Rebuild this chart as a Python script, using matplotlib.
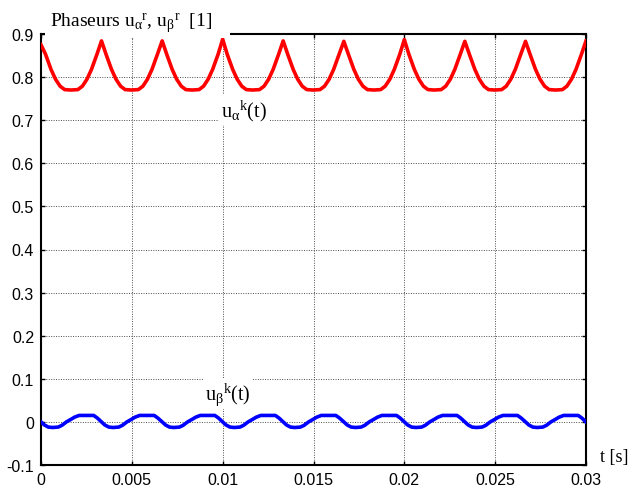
import numpy as np
import matplotlib
matplotlib.use("Agg")
import matplotlib.pyplot as plt
from matplotlib.patches import Rectangle

# u_alpha^k(t): breakpoints (ms) and values, one row per 300 Hz period
t_alpha_ms = [
    0.00, 0.25, 0.55, 0.80, 1.05, 1.30, 1.65, 2.03, 2.28, 2.53, 2.78, 3.08,
    3.33, 3.58, 3.88, 4.13, 4.38, 4.63, 4.98, 5.36, 5.61, 5.86, 6.11, 6.41,
    6.67, 6.92, 7.22, 7.47, 7.72, 7.97, 8.32, 8.70, 8.95, 9.20, 9.45, 9.75,
    10.00, 10.25, 10.55, 10.80, 11.05, 11.30, 11.65, 12.03, 12.28, 12.53, 12.78, 13.08,
    13.33, 13.58, 13.88, 14.13, 14.38, 14.63, 14.98, 15.36, 15.61, 15.86, 16.11, 16.41,
    16.67, 16.92, 17.22, 17.47, 17.72, 17.97, 18.32, 18.70, 18.95, 19.20, 19.45, 19.75,
    20.00, 20.25, 20.55, 20.80, 21.05, 21.30, 21.65, 22.03, 22.28, 22.53, 22.78, 23.08,
    23.33, 23.58, 23.88, 24.13, 24.38, 24.63, 24.98, 25.36, 25.61, 25.86, 26.11, 26.41,
    26.67, 26.92, 27.22, 27.47, 27.72, 27.97, 28.32, 28.70, 28.95, 29.20, 29.45, 29.75,
    30.00,
]
u_alpha = [
    0.875, 0.853, 0.818, 0.795, 0.779, 0.771, 0.770, 0.771, 0.779, 0.795, 0.818, 0.853,
    0.884, 0.853, 0.818, 0.795, 0.779, 0.771, 0.770, 0.771, 0.779, 0.795, 0.818, 0.853,
    0.884, 0.853, 0.818, 0.795, 0.779, 0.771, 0.770, 0.771, 0.779, 0.795, 0.818, 0.853,
    0.888, 0.853, 0.818, 0.795, 0.779, 0.771, 0.770, 0.771, 0.779, 0.795, 0.818, 0.853,
    0.884, 0.853, 0.818, 0.795, 0.779, 0.771, 0.770, 0.771, 0.779, 0.795, 0.818, 0.853,
    0.883, 0.853, 0.818, 0.795, 0.779, 0.771, 0.770, 0.771, 0.779, 0.795, 0.818, 0.853,
    0.887, 0.853, 0.818, 0.795, 0.779, 0.771, 0.770, 0.771, 0.779, 0.795, 0.818, 0.853,
    0.883, 0.853, 0.818, 0.795, 0.779, 0.771, 0.770, 0.771, 0.779, 0.795, 0.818, 0.853,
    0.883, 0.853, 0.818, 0.795, 0.779, 0.771, 0.770, 0.771, 0.779, 0.795, 0.818, 0.853,
    0.884,
]

# u_beta^k(t)
t_beta_ms = [
    0.00, 0.18, 0.40, 0.64, 0.95, 1.15, 1.40, 1.65, 1.85, 2.10, 2.90, 3.10,
    3.33, 3.51, 3.73, 3.97, 4.28, 4.48, 4.73, 4.98, 5.18, 5.43, 6.23, 6.43,
    6.67, 6.85, 7.07, 7.31, 7.62, 7.82, 8.07, 8.32, 8.52, 8.77, 9.57, 9.77,
    10.00, 10.18, 10.40, 10.64, 10.95, 11.15, 11.40, 11.65, 11.85, 12.10, 12.90, 13.10,
    13.33, 13.51, 13.73, 13.97, 14.28, 14.48, 14.73, 14.98, 15.18, 15.43, 16.23, 16.43,
    16.67, 16.85, 17.07, 17.31, 17.62, 17.82, 18.07, 18.32, 18.52, 18.77, 19.57, 19.77,
    20.00, 20.18, 20.40, 20.64, 20.95, 21.15, 21.40, 21.65, 21.85, 22.10, 22.90, 23.10,
    23.33, 23.51, 23.73, 23.97, 24.28, 24.48, 24.73, 24.98, 25.18, 25.43, 26.23, 26.43,
    26.67, 26.85, 27.07, 27.31, 27.62, 27.82, 28.07, 28.32, 28.52, 28.77, 29.57, 29.77,
    30.00,
]
u_beta = [
    0.0, -0.007, -0.012, -0.013, -0.012, -0.008, 0.0, 0.006, 0.011, 0.015, 0.015, 0.009,
    0.0, -0.007, -0.012, -0.013, -0.012, -0.008, 0.0, 0.006, 0.011, 0.015, 0.015, 0.009,
    0.0, -0.007, -0.012, -0.013, -0.012, -0.008, 0.0, 0.006, 0.011, 0.015, 0.015, 0.009,
    0.0, -0.007, -0.012, -0.013, -0.012, -0.008, 0.0, 0.006, 0.011, 0.015, 0.015, 0.009,
    0.0, -0.007, -0.012, -0.013, -0.012, -0.008, 0.0, 0.006, 0.011, 0.015, 0.015, 0.009,
    0.0, -0.007, -0.012, -0.013, -0.012, -0.008, 0.0, 0.006, 0.011, 0.015, 0.015, 0.009,
    0.0, -0.007, -0.012, -0.013, -0.012, -0.008, 0.0, 0.006, 0.011, 0.015, 0.015, 0.009,
    0.0, -0.007, -0.012, -0.013, -0.012, -0.008, 0.0, 0.006, 0.011, 0.015, 0.015, 0.009,
    0.0, -0.007, -0.012, -0.013, -0.012, -0.008, 0.0, 0.006, 0.011, 0.015, 0.015, 0.009,
    0.0,
]

x_ticks = [0, 0.005, 0.01, 0.015, 0.02, 0.025, 0.03]
x_labels = ["0", "0.005", "0.01", "0.015", "0.02", "0.025", "0.03"]
y_ticks = [-0.1, 0, 0.1, 0.2, 0.3, 0.4, 0.5, 0.6, 0.7, 0.8, 0.9]
y_labels = ["-0.1", "0", "0.1", "0.2", "0.3", "0.4", "0.5", "0.6", "0.7", "0.8", "0.9"]

plt.rcParams['font.family'] = ['Liberation Sans', 'DejaVu Sans']
plt.rcParams['mathtext.fontset'] = 'custom'
plt.rcParams['mathtext.rm'] = 'Liberation Serif'
plt.rcParams['mathtext.it'] = 'Liberation Serif'
serif = ['Liberation Serif', 'DejaVu Serif']

W, H = 631, 489
fig = plt.figure(figsize=(W / 100, H / 100), dpi=100)
ax = fig.add_axes([41 / W, 1 - 466 / H, 545 / W, 431 / H])

t_alpha = np.array(t_alpha_ms) / 1000
t_beta = np.array(t_beta_ms) / 1000
ax.plot(t_alpha, u_alpha, color='#ff0000', lw=2.6, solid_joinstyle='round', zorder=3)
ax.plot(t_beta, u_beta, color='#0000ff', lw=2.6, solid_joinstyle='round', zorder=3)

ax.set_xlim(0, 0.03)
ax.set_ylim(-0.1, 0.9)
ax.set_xticks(x_ticks)
ax.set_xticklabels(x_labels)
ax.set_yticks(y_ticks)
ax.set_yticklabels(y_labels)
ax.tick_params(direction='in', length=3, width=1, top=True, right=True,
               labelsize=11.5, pad=5, colors='black')
ax.grid(True, linestyle=(0, (1, 1.5)), linewidth=0.7, color='0.3')
for s in ax.spines.values():
    s.set_linewidth(1.5)

box = dict(facecolor='white', edgecolor='none', pad=1.5)
ax.text(0.0099, 0.71, r"u$_{\mathrm{\alpha}}$$^{\mathrm{k}}$(t)", family=serif, fontsize=14.5,
        ha='left', va='baseline', bbox=box, zorder=4)
ax.text(0.00905, 0.053, r"u$_{\mathrm{\beta}}$$^{\mathrm{k}}$(t)", family=serif, fontsize=14.5,
        ha='left', va='baseline', bbox=box, zorder=4)

# title area is blanked out over the top frame
fig.patches.append(Rectangle((45 / W, 1 - 39 / H), 185 / W, 36 / H,
                             transform=fig.transFigure, facecolor='white',
                             edgecolor='none', zorder=5))
fig.text(50 / W, 1 - 27 / H,
         r"Phaseurs u$_{\mathrm{\alpha}}$$^{\mathrm{r}}$, u$_{\mathrm{\beta}}$$^{\mathrm{r}}$  [1]",
         family=serif, fontsize=14, ha='left', va='baseline', zorder=6)
fig.text(600 / W, 1 - 462 / H, "t [s]", family=serif, fontsize=13,
         ha='left', va='baseline')

fig.savefig("out.png", dpi=100)
